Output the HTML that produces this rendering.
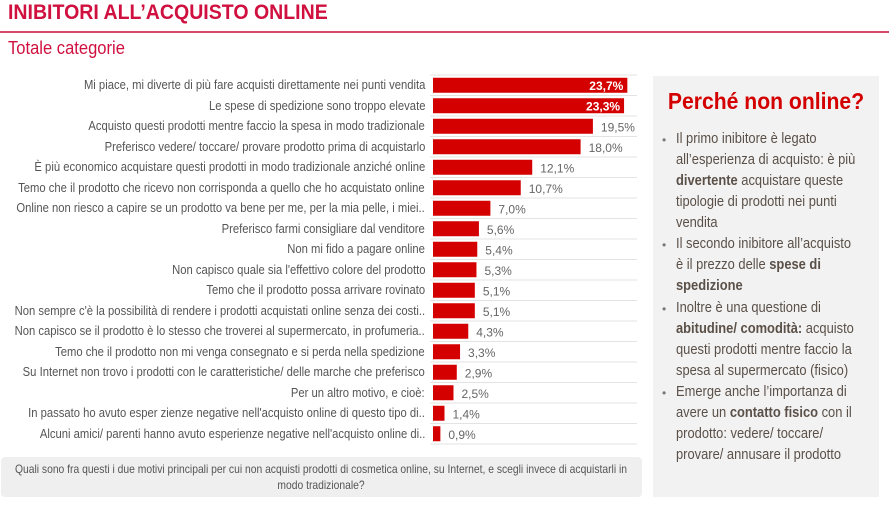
<!DOCTYPE html>
<html><head><meta charset="utf-8"><style>
body{margin:0;width:889px;height:510px;background:#fff;position:relative;overflow:hidden;font-family:"Liberation Sans",sans-serif;}
.t{position:absolute;left:8px;top:1px;font-size:21px;font-weight:bold;color:#d0103f;transform:scaleX(0.93);transform-origin:left;white-space:nowrap}
.hr{position:absolute;left:0;top:31px;width:889px;height:2px;background:#d9496a}
.st{position:absolute;left:8px;top:38px;font-size:18px;color:#d0103f;transform:scaleX(0.92);transform-origin:left;white-space:nowrap}
.lab{position:absolute;right:464px;font-size:12.5px;color:#555;white-space:nowrap;transform:scaleX(0.9);transform-origin:right;line-height:14px}
.panel{position:absolute;left:653px;top:76px;width:226px;height:421px;background:#f2f2f2}
.ph{position:absolute;left:0;width:226px;top:12px;text-align:center;font-size:23.5px;font-weight:bold;color:#d40000;transform:scaleX(0.9)}
.pl{position:absolute;left:23px;font-size:14.5px;color:#5a5048;white-space:nowrap;transform:scaleX(0.89);transform-origin:left}
.bu{position:absolute;left:9px;font-size:12px;color:#777}
.q{position:absolute;left:1px;top:457px;width:641px;height:40px;background:#efefef;border-radius:4px;font-size:12px;color:#555;text-align:center;line-height:16px}
.q div{transform:scaleX(0.86);width:740px;margin-left:-50px;padding-top:4px}
</style></head><body>
<div class="t">INIBITORI ALL’ACQUISTO ONLINE</div>
<div class="hr"></div>
<div class="st">Totale categorie</div>
<svg width="889" height="510" style="position:absolute;left:0;top:0" font-family="Liberation Sans, sans-serif">
<g stroke="#e3e3e3" stroke-width="1">
<line x1="430" x2="637" y1="75" y2="75"/><line x1="430" x2="637" y1="95.5" y2="95.5"/><line x1="430" x2="637" y1="116" y2="116"/><line x1="430" x2="637" y1="136.5" y2="136.5"/><line x1="430" x2="637" y1="157" y2="157"/><line x1="430" x2="637" y1="177.5" y2="177.5"/><line x1="430" x2="637" y1="198" y2="198"/><line x1="430" x2="637" y1="218.5" y2="218.5"/><line x1="430" x2="637" y1="239" y2="239"/><line x1="430" x2="637" y1="259.5" y2="259.5"/><line x1="430" x2="637" y1="280" y2="280"/><line x1="430" x2="637" y1="300.5" y2="300.5"/><line x1="430" x2="637" y1="321" y2="321"/><line x1="430" x2="637" y1="341.5" y2="341.5"/><line x1="430" x2="637" y1="362" y2="362"/><line x1="430" x2="637" y1="382.5" y2="382.5"/><line x1="430" x2="637" y1="403" y2="403"/><line x1="430" x2="637" y1="423.5" y2="423.5"/><line x1="430" x2="637" y1="444" y2="444"/>
</g>
<g fill="#d40000" id="bars"></g>
<g id="vals" font-size="12" fill="#666"></g>
</svg>
<div id="labs"></div>
<div class="panel">
<div class="ph">Perché non online?</div>
<div class="bu" style="top:57px">•</div><div class="pl" style="top:55px">Il primo inibitore è legato</div>
<div class="pl" style="top:76px">all’esperienza di acquisto: è più</div>
<div class="pl" style="top:97px"><b>divertente</b> acquistare queste</div>
<div class="pl" style="top:118px">tipologie di prodotti nei punti</div>
<div class="pl" style="top:139px">vendita</div>
<div class="bu" style="top:162px">•</div><div class="pl" style="top:160px">Il secondo inibitore all’acquisto</div>
<div class="pl" style="top:181px">è il prezzo delle <b>spese di</b></div>
<div class="pl" style="top:202px"><b>spedizione</b></div>
<div class="bu" style="top:226px">•</div><div class="pl" style="top:224px">Inoltre è una questione di</div>
<div class="pl" style="top:245px"><b>abitudine/ comodità:</b> acquisto</div>
<div class="pl" style="top:266px">questi prodotti mentre faccio la</div>
<div class="pl" style="top:287px">spesa al supermercato (fisico)</div>
<div class="bu" style="top:310px">•</div><div class="pl" style="top:308px">Emerge anche l’importanza di</div>
<div class="pl" style="top:329px">avere un <b>contatto fisico</b> con il</div>
<div class="pl" style="top:350px">prodotto: vedere/ toccare/</div>
<div class="pl" style="top:371px">provare/ annusare il prodotto</div>
</div>
<div class="q"><div>Quali sono fra questi i due motivi principali per cui non acquisti prodotti di cosmetica online, su Internet, e scegli invece di acquistarli in<br>modo tradizionale?</div></div>
<script>
var L=["Mi piace, mi diverte di più fare acquisti direttamente nei punti vendita","Le spese di spedizione sono troppo elevate","Acquisto questi prodotti mentre faccio la spesa in modo tradizionale","Preferisco vedere/ toccare/ provare prodotto prima di acquistarlo","È più economico acquistare questi prodotti in modo tradizionale anziché online","Temo che il prodotto che ricevo non corrisponda a quello che ho acquistato online","Online non riesco a capire se un prodotto va bene per me, per la mia pelle, i miei..","Preferisco farmi consigliare dal venditore","Non mi fido a pagare online","Non capisco quale sia l'effettivo colore del prodotto","Temo che il prodotto possa arrivare rovinato","Non sempre c'è la possibilità di rendere i prodotti acquistati online senza dei costi..","Non capisco se il prodotto è lo stesso che troverei al supermercato, in profumeria..","Temo che il prodotto non mi venga consegnato e si perda nella spedizione","Su Internet non trovo i prodotti con le caratteristiche/ delle marche che preferisco","Per un altro motivo, e cioè:","In passato ho avuto esper zienze negative nell'acquisto online di questo tipo di..","Alcuni amici/ parenti hanno avuto esperienze negative nell'acquisto online di.."];
var V=[23.7,23.3,19.5,18.0,12.1,10.7,7.0,5.6,5.4,5.3,5.1,5.1,4.3,3.3,2.9,2.5,1.4,0.9];
var b="",v="",l="";
for(var i=0;i<18;i++){var c=85.25+i*20.5,w=V[i]*8.2,s=V[i].toFixed(1).replace(".",",")+"%";
b+='<rect x="433" y="'+(c-7.5)+'" width="'+w+'" height="15"/>';
if(i<2)v+='<text x="'+(433+w-4)+'" y="'+(c+4.5)+'" text-anchor="end" fill="#fff" font-weight="bold">'+s+'</text>';
else v+='<text x="'+(433+w+8)+'" y="'+(c+5)+'">'+s+'</text>';
l+='<div class="lab" style="top:'+(c-7)+'px">'+L[i]+'</div>';}
document.getElementById("bars").innerHTML=b;document.getElementById("vals").innerHTML=v;document.getElementById("labs").innerHTML=l;
</script>
</body></html>
